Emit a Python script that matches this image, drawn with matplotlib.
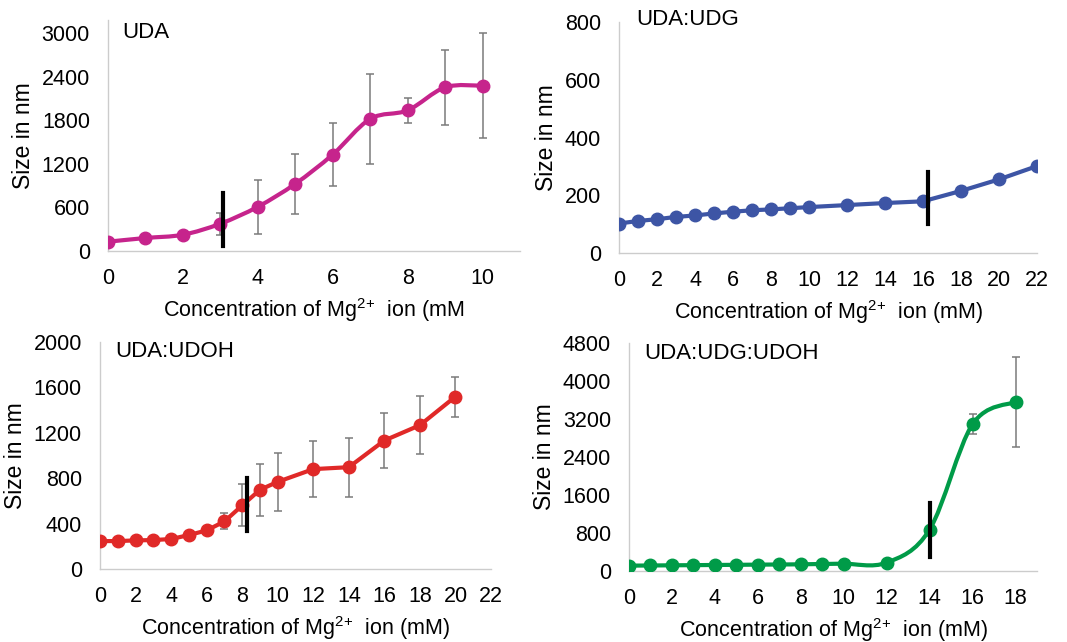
import numpy as np
import matplotlib
matplotlib.use('Agg')
from matplotlib import pyplot as plt
from matplotlib.path import Path
from matplotlib.patches import PathPatch

plt.rcParams['font.family'] = ['Liberation Sans', 'DejaVu Sans']
plt.rcParams['mathtext.fontset'] = 'custom'
plt.rcParams['mathtext.rm'] = 'Liberation Sans'
plt.rcParams['mathtext.it'] = 'Liberation Sans:italic'

# --- data ---
uda_x = [0, 1, 2, 3, 4, 5, 6, 7, 8, 9, 10]
uda_y = [128, 179, 224, 376, 609, 925, 1328, 1818, 1937, 2253, 2276]
uda_err = [0, 0, 0, 150, 375, 410, 440, 615, 175, 520, 720]

udg_x = [0, 1, 2, 3, 4, 5, 6, 7, 8, 9, 10, 12, 14, 16, 18, 20, 22]
udg_y = [102, 111, 117, 125, 130, 137, 143, 148, 151, 155, 159, 166, 173, 179, 215, 255, 301]

udoh_x = [0, 1, 2, 3, 4, 5, 6, 7, 8, 9, 10, 12, 14, 16, 18, 20]
udoh_y = [246, 246, 252, 255, 264, 299, 340, 419, 560, 698, 768, 880, 897, 1132, 1267, 1519]
udoh_err = [0, 0, 0, 0, 0, 0, 0, 70, 185, 228, 255, 245, 260, 245, 258, 176]

all_x = [0, 1, 2, 3, 4, 5, 6, 7, 8, 9, 10, 12, 14, 16, 18]
all_y = [113, 116, 120, 123, 127, 130, 134, 137, 141, 148, 155, 176, 873, 3090, 3561]
all_err = [0, 0, 0, 0, 0, 0, 0, 0, 0, 0, 0, 0, 0, 205, 940]

# black transition markers: x, y bottom, y top
uda_mark = [3.07, 70, 800]
udg_mark = [16.26, 99, 280]
udoh_mark = [8.27, 337, 798]
all_mark = [14.0, 296, 1422]


def smooth_path(x, y):
    # Excel-like smoothed line: Catmull-Rom as cubic bezier
    p = np.column_stack([x, y]).astype(float)
    p = np.vstack([p[0], p, p[-1]])
    verts = [p[1]]
    codes = [Path.MOVETO]
    for i in range(1, len(p) - 2):
        c1 = p[i] + (p[i + 1] - p[i - 1]) / 6
        c2 = p[i + 1] - (p[i + 2] - p[i]) / 6
        verts += [c1, c2, p[i + 1]]
        codes += [Path.CURVE4] * 3
    return Path(verts, codes)


def panel(rect, x, y, err, color, smooth, mark, xlim, xticks, ylim, yticks, title, tpos, xlab):
    ax = fig.add_axes(rect)
    if err is not None:
        ax.errorbar(x, y, yerr=err, fmt='none', ecolor='#7a7a7a', elinewidth=1.1, capsize=3, capthick=1.1, zorder=2)
    if smooth:
        ax.add_patch(PathPatch(smooth_path(x, y), fill=False, edgecolor=color, lw=3, zorder=3))
    else:
        ax.plot(x, y, color=color, lw=3, zorder=3)
    ax.plot(x, y, 'o', color=color, ms=9, zorder=4)
    ax.plot([mark[0], mark[0]], [mark[1], mark[2]], color='black', lw=3, zorder=5)
    ax.set_xlim(*xlim)
    ax.set_ylim(*ylim)
    ax.set_xticks(xticks)
    ax.set_yticks(yticks)
    for s in ['top', 'right']:
        ax.spines[s].set_visible(False)
    for s in ['left', 'bottom']:
        ax.spines[s].set_color('#cccccc')
        ax.spines[s].set_linewidth(1.0)
    ax.tick_params(length=0, labelsize=15.5)
    ax.tick_params(axis='x', pad=12)
    ax.tick_params(axis='y', pad=13)
    ax.set_ylabel('Size in nm', fontsize=16.5, labelpad=5)
    ax.set_xlabel(xlab, fontsize=15.5, labelpad=5)
    ax.text(tpos[0], tpos[1], title, transform=ax.transAxes, fontsize=16, va='center', ha='left')
    return ax


W, H = 1067, 642
fig = plt.figure(figsize=(W / 100, H / 100), dpi=100)


def px(l, r, t, b):
    return [l / W, 1 - b / H, (r - l) / W, (b - t) / H]


lab = r'Concentration of Mg$^{2{+}}$  ion (mM)'

panel(px(108, 520, 20, 251), uda_x, uda_y, uda_err, '#c6248c', True, uda_mark,
      (0, 11), range(0, 11, 2), (0, 3180), range(0, 3001, 600), 'UDA', (0.034, 0.944),
      r'Concentration of Mg$^{2{+}}$  ion (mM')
panel(px(619, 1037, 22, 253), udg_x, udg_y, None, '#3d55a5', False, udg_mark,
      (0, 22), range(0, 23, 2), (0, 800), range(0, 801, 200), 'UDA:UDG', (0.041, 1.009), lab)
panel(px(100, 491, 342, 569), udoh_x, udoh_y, udoh_err, '#e02928', False, udoh_mark,
      (0, 22), range(0, 23, 2), (0, 2000), range(0, 2001, 400), 'UDA:UDOH', (0.038, 0.96), lab)
panel(px(629, 1037, 343, 571), all_x, all_y, all_err, '#009b48', True, all_mark,
      (0, 19), range(0, 19, 2), (0, 4800), range(0, 4801, 800), 'UDA:UDG:UDOH', (0.037, 0.956), lab)

fig.savefig('out.png', dpi=100)
